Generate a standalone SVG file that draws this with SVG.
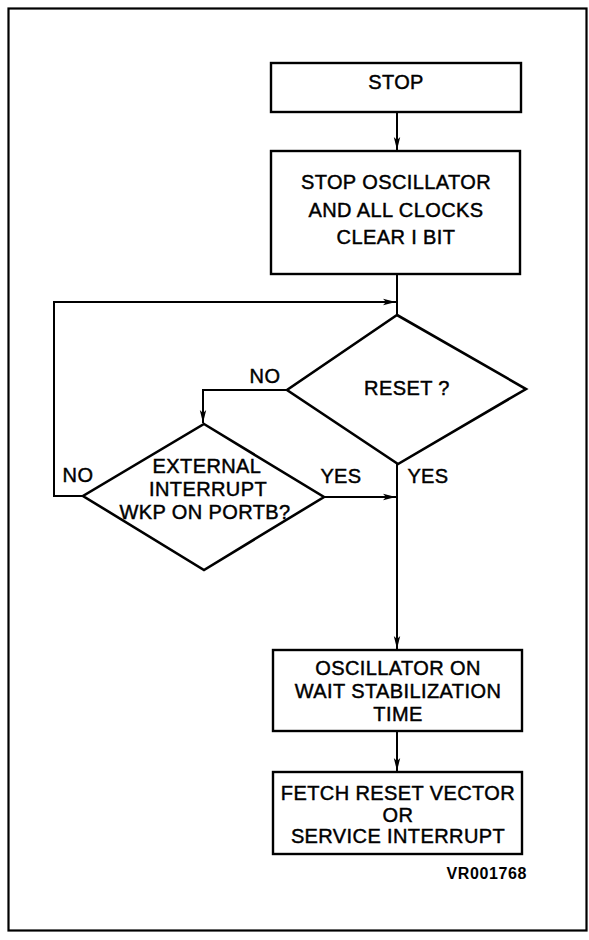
<svg xmlns="http://www.w3.org/2000/svg" width="589" height="940" viewBox="0 0 589 940">
  <defs>
    <marker id="arr" markerWidth="14" markerHeight="8" refX="13" refY="4" orient="auto" markerUnits="userSpaceOnUse">
      <path d="M0,0.8 L13,4 L0,7.2 L3,4 Z" fill="#000"/>
    </marker>
    <style>
      .box { fill: #fff; stroke: #000; stroke-width: 2.4; }
      .dia { fill: #fff; stroke: #000; stroke-width: 2.6; stroke-linejoin: miter; }
      .ln { fill: none; stroke: #000; stroke-width: 2; }
      .t { font-family: "Liberation Sans", Arial, sans-serif; font-size: 20px; fill: #000; stroke: #000; stroke-width: 0.45px; text-anchor: middle; letter-spacing: 0.4px; }
      .lbl { font-family: "Liberation Sans", Arial, sans-serif; font-size: 20px; fill: #000; stroke: #000; stroke-width: 0.45px; text-anchor: middle; letter-spacing: 0.4px; }
      .code { font-family: "Liberation Sans", Arial, sans-serif; font-size: 16px; font-weight: bold; fill: #000; text-anchor: end; letter-spacing: 0.6px; }
    </style>
  </defs>
  <rect x="0" y="0" width="589" height="940" fill="#fff"/>
  <rect x="8.5" y="8.5" width="578" height="922" fill="none" stroke="#000" stroke-width="2.2"/>

  <g id="connectors">
    <line class="ln" x1="397" y1="112" x2="397" y2="150" marker-end="url(#arr)"/>
    <line class="ln" x1="397" y1="274" x2="397" y2="315"/>
    <polyline class="ln" points="83,496 54,496 54,302 396,302" marker-end="url(#arr)"/>
    <polyline class="ln" points="287,390 203,390 203,423" marker-end="url(#arr)"/>
    <line class="ln" x1="324" y1="497" x2="396" y2="497" marker-end="url(#arr)"/>
    <line class="ln" x1="397" y1="464" x2="397" y2="649" marker-end="url(#arr)"/>
    <line class="ln" x1="397" y1="731" x2="397" y2="771" marker-end="url(#arr)"/>
    <text class="lbl" x="265" y="383">NO</text>
    <text class="lbl" x="78" y="482">NO</text>
    <text class="lbl" x="341" y="483">YES</text>
    <text class="lbl" x="428" y="483">YES</text>
  </g>

  <g id="stop">
    <rect class="box" x="271" y="63" width="250" height="49"/>
    <text class="t" x="396" y="89">STOP</text>
  </g>

  <g id="stop-osc">
    <rect class="box" x="271" y="151" width="249" height="123"/>
    <text class="t" x="396" y="189">STOP OSCILLATOR</text>
    <text class="t" x="396" y="217">AND ALL CLOCKS</text>
    <text class="t" x="396" y="244">CLEAR I BIT</text>
  </g>

  <g id="reset">
    <polygon class="dia" points="397,315 526,389 398,464 287,390"/>
    <text class="t" x="407" y="395">RESET ?</text>
  </g>

  <g id="ext-int">
    <polygon class="dia" points="204,424 324,497 204,570 83,496"/>
    <text class="t" x="207" y="473">EXTERNAL</text>
    <text class="t" x="208" y="496">INTERRUPT</text>
    <text class="t" x="205" y="519">WKP ON PORTB?</text>
  </g>

  <g id="osc-on">
    <rect class="box" x="273" y="650" width="249" height="81"/>
    <text class="t" x="398" y="675">OSCILLATOR ON</text>
    <text class="t" x="398" y="698">WAIT STABILIZATION</text>
    <text class="t" x="398" y="721">TIME</text>
  </g>

  <g id="fetch">
    <rect class="box" x="273" y="772" width="249" height="82"/>
    <text class="t" x="398" y="800">FETCH RESET VECTOR</text>
    <text class="t" x="398" y="822">OR</text>
    <text class="t" x="398" y="843">SERVICE INTERRUPT</text>
  </g>

  <text class="code" x="527" y="879">VR001768</text>
</svg>
